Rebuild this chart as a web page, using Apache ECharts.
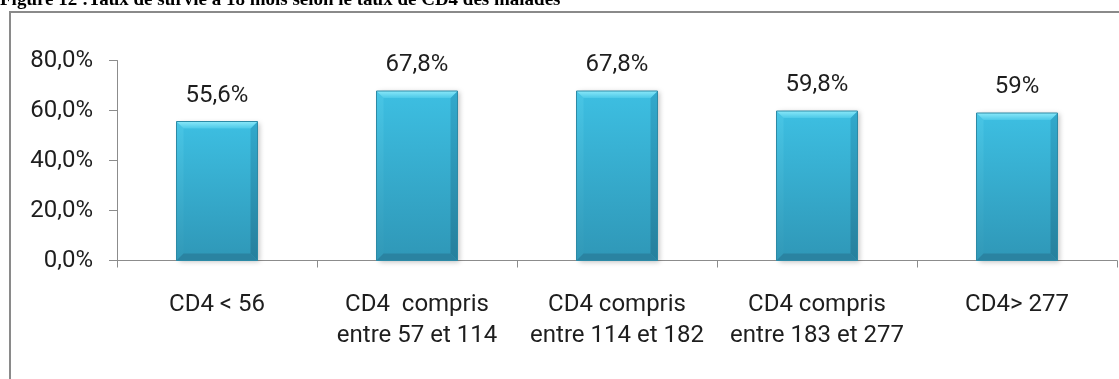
<!DOCTYPE html>
<html>
<head>
<meta charset="utf-8">
<script src="https://cdn.jsdelivr.net/npm/echarts@6/dist/echarts.min.js"></script>
<style>
  html, body { margin: 0; padding: 0; background: #fff; }
  #chart { width: 1119px; height: 379px; }
</style>
</head>
<body>
<div id="chart"></div>
<script>
// Survival rate at 18 months by CD4 count
const titleText = 'Figure 12 :Taux de survie à 18 mois selon le taux de CD4 des malades';
const categories = [
  'CD4 < 56',
  'CD4  compris\nentre 57 et 114',
  'CD4 compris\nentre 114 et 182',
  'CD4 compris\nentre 183 et 277',
  'CD4> 277'
];
const survivalRates = [55.6, 67.8, 67.8, 59.8, 59];
const yTicks = { min: 0, max: 80, interval: 20 };

const fontFamily = 'Roboto, "Open Sans", sans-serif';
const textColor = '#1e1e1e';
const axisColor = '#8c8c8c';

function pct(v, keepDecimal) {
  if (!keepDecimal && Number.isInteger(v)) return v + '%';
  return v.toFixed(1).replace('.', ',') + '%';
}

// Bevelled column: body, four bevel faces, outline and value label
function renderBevelBar(params, api) {
  const idx = api.value(0);
  const val = api.value(1);
  const topPt = api.coord([idx, val]);
  const basePt = api.coord([idx, 0]);
  const bw = api.size([1, 0])[0] * 0.405;
  const l = topPt[0] - bw / 2, r = topPt[0] + bw / 2;
  const t = topPt[1], b = basePt[1];
  const bv = 7;
  const grad = (c0, c1) => new echarts.graphic.LinearGradient(0, 0, 0, 1, [
    { offset: 0, color: c0 }, { offset: 1, color: c1 }
  ]);
  return {
    type: 'group',
    children: [
      {
        type: 'rect',
        shape: { x: l, y: t, width: bw, height: b - t },
        style: {
          fill: grad('#3dbfe2', '#2f97b7'),
          shadowBlur: 5, shadowColor: 'rgba(0,0,0,0.25)', shadowOffsetX: 2, shadowOffsetY: 1
        }
      },
      {
        type: 'polygon',
        shape: { points: [[l, t], [l + bv, t + bv], [l + bv, b - bv], [l, b]] },
        style: { fill: grad('#48c6e6', '#3198b7') }
      },
      {
        type: 'polygon',
        shape: { points: [[r, t], [r, b], [r - bv, b - bv], [r - bv, t + bv]] },
        style: { fill: grad('#32a9cc', '#267f9c') }
      },
      {
        type: 'polygon',
        shape: { points: [[l, b], [r, b], [r - bv, b - bv], [l + bv, b - bv]] },
        style: { fill: '#2a83a1' }
      },
      {
        type: 'polygon',
        shape: { points: [[l, t], [r, t], [r - bv, t + bv], [l + bv, t + bv]] },
        style: { fill: grad('#8ae8f9', '#4cc9e8') }
      },
      {
        type: 'rect',
        shape: { x: l, y: t, width: bw, height: b - t },
        style: { fill: null, stroke: '#2c8aa6', lineWidth: 1 }
      },
      {
        type: 'text',
        style: {
          text: pct(val, false),
          x: topPt[0], y: t - 26,
          align: 'center', verticalAlign: 'middle',
          fontFamily: fontFamily, fontSize: 24, fill: textColor
        }
      }
    ]
  };
}

const chart = echarts.init(document.getElementById('chart'), null, { renderer: 'canvas' });
chart.setOption({
  animation: false,
  backgroundColor: '#ffffff',
  graphic: [
    {
      type: 'rect',
      shape: { x: 10, y: 12, width: 1200, height: 500 },
      style: { fill: null, stroke: '#8a8a8a', lineWidth: 2 }
    },
    {
      type: 'text',
      x: 0, y: 0,
      style: {
        text: titleText,
        fontFamily: '"Liberation Serif", "Times New Roman", serif',
        fontWeight: 'bold', fontSize: 19, fill: '#000',
        verticalAlign: 'middle', align: 'left'
      }
    }
  ],
  grid: { left: 117, right: 2, top: 60.5, height: 200, containLabel: false },
  xAxis: {
    type: 'category',
    data: categories,
    boundaryGap: true,
    axisLine: { lineStyle: { color: axisColor, width: 1 } },
    axisTick: { show: true, inside: false, length: 7, lineStyle: { color: axisColor } },
    axisLabel: {
      interval: 0, margin: 29, lineHeight: 31,
      fontFamily: fontFamily, fontSize: 24, color: textColor
    },
    splitLine: { show: false }
  },
  yAxis: {
    type: 'value',
    min: yTicks.min, max: yTicks.max, interval: yTicks.interval,
    axisLine: { show: true, lineStyle: { color: axisColor, width: 1 } },
    axisTick: { show: true, inside: false, length: 8, lineStyle: { color: axisColor } },
    axisLabel: {
      margin: 24, fontFamily: fontFamily, fontSize: 24, color: textColor,
      formatter: (v) => pct(v, true)
    },
    splitLine: { show: false }
  },
  series: [{
    type: 'custom',
    renderItem: renderBevelBar,
    data: survivalRates.map((v, i) => [i, v]),
    encode: { x: 0, y: 1 },
    clip: false
  }]
});
</script>
</body>
</html>
